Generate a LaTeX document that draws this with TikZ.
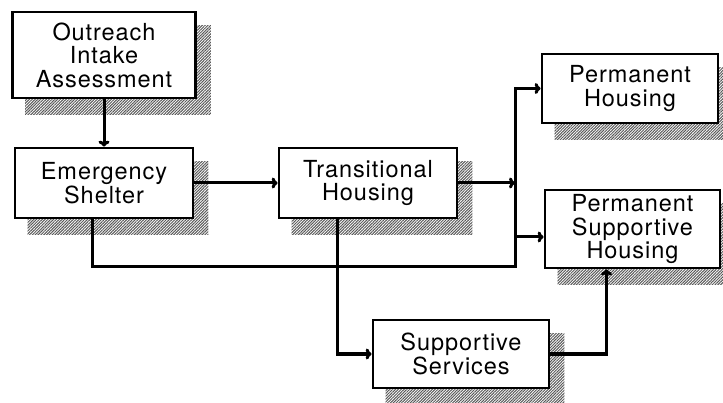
\documentclass[tikz,border=0pt]{standalone}
\usepackage{fontspec}
\setmainfont[LetterSpace=4]{TeX Gyre Heros}
\usetikzlibrary{arrows.meta,backgrounds,patterns.meta}

\begin{document}
\begin{tikzpicture}[x=1pt, y=-1pt,
    stage/.style={draw, line width=2.8pt, fill=white, align=center,
        minimum width=178pt, minimum height=70pt, inner sep=1pt,
        font=\fontsize{23.5}{23.5}\selectfont},
    drop/.style={pattern={Lines[angle=45, distance=2pt, line width=1pt]},
        pattern color=black!65},
    link/.style={line width=3pt, -{To[length=6pt, width=11pt]}}]

    \useasboundingbox (0,0) rectangle (723,403);

    \node[stage, minimum width=183pt, minimum height=86pt] (outreach) at (104,55) {Outreach\\Intake\\Assessment};
    \node[stage] (shelter) at (104,183) {Emergency\\Shelter};
    \node[stage] (transitional) at (368,183) {Transitional\\Housing};
    \node[stage, minimum width=176pt, minimum height=69pt] (permanent) at (630,88.5) {Permanent\\Housing};
    \node[stage, minimum width=175pt, minimum height=78pt] (supportive) at (632.5,229) {Permanent\\Supportive\\Housing};
    \node[stage, minimum width=176pt, minimum height=68pt] (services) at (461,354) {Supportive\\Services};

    \coordinate (split) at (515,267);
    \coordinate (fork) at (515,237);

    % shadows behind the boxes
    \begin{scope}[on background layer]
        \foreach \panel in {outreach, shelter, transitional, permanent, supportive, services}
            \fill[drop] ([shift={(14,15)}]\panel.north west) rectangle ([shift={(14,15)}]\panel.south east);
    \end{scope}

    \draw [link] (outreach.south) -- (shelter.north);
    \draw [link] (shelter.east) -- (transitional.west);
    \draw [link] (transitional.east) -- (transitional.east -| split);
    \draw [link] ([xshift=-12pt]shelter.south) |- (split) |- (permanent.west);
    \draw [link] (fork) -- (fork -| supportive.west);
    \draw [link] ([xshift=-31pt]transitional.south) |- (services.west);
    \draw [link] (services.east) -| ([xshift=-26pt]supportive.south);

\end{tikzpicture}
\end{document}
